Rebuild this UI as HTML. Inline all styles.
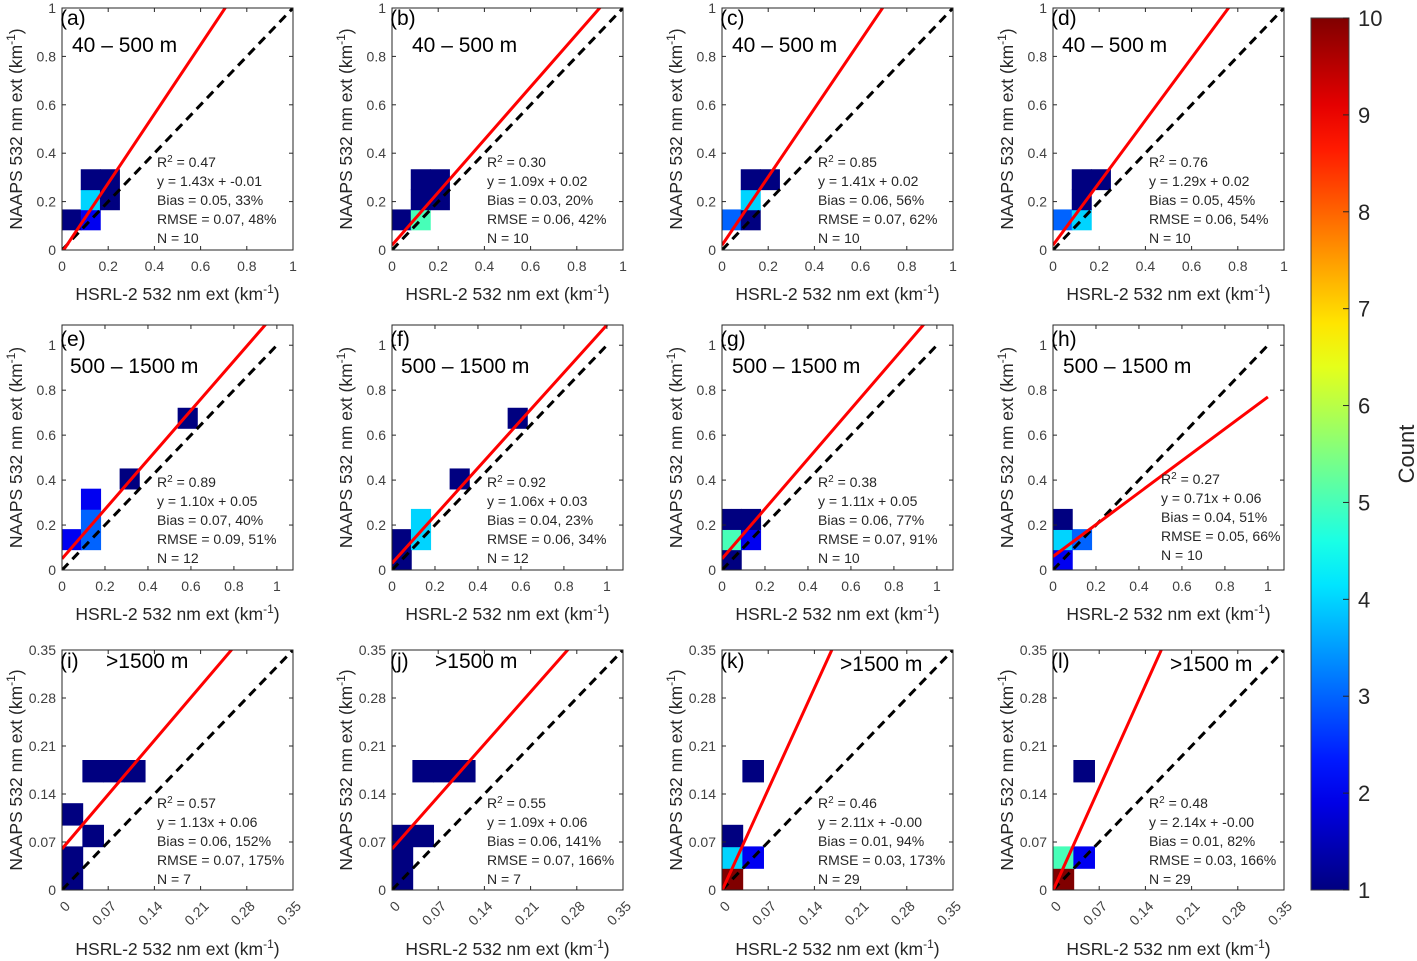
<!DOCTYPE html>
<html><head><meta charset="utf-8"><style>
body{margin:0;background:#fff}
svg{display:block;font-family:"Liberation Sans",Arial,sans-serif}
</style></head><body>
<svg id="fig" width="1417" height="961" viewBox="0 0 1417 961"></svg>
<script>
const panelLabels=['(a)','(b)','(c)','(d)','(e)','(f)','(g)','(h)','(i)','(j)','(k)','(l)'];
const rangeLabels=['40 – 500 m','500 – 1500 m','>1500 m'];
const slopes=[1.43,1.09,1.41,1.29,1.10,1.06,1.11,0.71,1.13,1.09,2.11,2.14];
const intercepts=[-0.01,0.02,0.02,0.02,0.05,0.03,0.05,0.06,0.06,0.06,-0.001,-0.001];
const r2Labels=['0.47','0.30','0.85','0.76','0.89','0.92','0.38','0.27','0.57','0.55','0.46','0.48'];
const fitLabels=['y = 1.43x + -0.01','y = 1.09x + 0.02','y = 1.41x + 0.02','y = 1.29x + 0.02','y = 1.10x + 0.05','y = 1.06x + 0.03','y = 1.11x + 0.05','y = 0.71x + 0.06','y = 1.13x + 0.06','y = 1.09x + 0.06','y = 2.11x + -0.00','y = 2.14x + -0.00'];
const biasLabels=['0.05, 33%','0.03, 20%','0.06, 56%','0.05, 45%','0.07, 40%','0.04, 23%','0.06, 77%','0.04, 51%','0.06, 152%','0.06, 141%','0.01, 94%','0.01, 82%'];
const rmseLabels=['0.07, 48%','0.06, 42%','0.07, 62%','0.06, 54%','0.09, 51%','0.06, 34%','0.07, 91%','0.05, 66%','0.07, 175%','0.07, 166%','0.03, 173%','0.03, 166%'];
const nValues=[10,10,10,10,12,12,10,10,7,7,29,29];
const binWidths=[0.083,0.09,0.0315];
// cells: [xbin, ybin, count]
const cellsA=[[0,1,1],[1,1,2],[1,2,4],[1,3,1],[2,3,1],[2,2,1]];
const cellsB=[[0,1,1],[1,1,5],[1,2,1],[2,2,1],[1,3,1],[2,3,1]];
const cellsC=[[0,1,3],[1,1,1],[1,2,4],[1,3,1],[2,3,1]];
const cellsD=[[0,1,3],[1,1,4],[1,2,1],[1,3,1],[2,3,1]];
const cellsE=[[0,1,2],[1,1,3],[1,2,3],[1,3,2],[3,4,1],[6,7,1]];
const cellsF=[[0,0,1],[0,1,1],[1,1,4],[1,2,4],[3,4,1],[6,7,1]];
const cellsG=[[0,0,1],[0,1,5],[1,1,2],[0,2,1],[1,2,1]];
const cellsH=[[0,0,2],[0,1,4],[1,1,3],[0,2,1]];
const cellsI=[[0,0,1],[0,1,1],[1,2,1],[0,3,1],[1,5,1],[2,5,1],[3,5,1]];
const cellsJ=[[0,0,1],[0,1,1],[0,2,1],[1,2,1],[1,5,1],[2,5,1],[3,5,1]];
const cellsK=[[0,0,10],[0,1,4],[1,1,2],[0,2,1],[1,5,1]];
const cellsL=[[0,0,10],[0,1,5],[1,1,2],[1,5,1]];
const allCells=[cellsA,cellsB,cellsC,cellsD,cellsE,cellsF,cellsG,cellsH,cellsI,cellsJ,cellsK,cellsL];
const ticks12=['0','0.2','0.4','0.6','0.8','1'];
const ticks3=['0','0.07','0.14','0.21','0.28','0.35'];
const cbTicks=[1,2,3,4,5,6,7,8,9,10];

const NS='http://www.w3.org/2000/svg';
const svg=document.getElementById('fig');
function mk(t,a,p){const e=document.createElementNS(NS,t);for(const k in a)e.setAttribute(k,a[k]);(p||svg).appendChild(e);return e;}
function jet(v){
  function c(x){return Math.max(0,Math.min(1,x));}
  const r=c(1.5-Math.abs(4*v-3)),g=c(1.5-Math.abs(4*v-2)),b=c(1.5-Math.abs(4*v-1));
  return 'rgb('+Math.round(r*255)+','+Math.round(g*255)+','+Math.round(b*255)+')';}
function countColor(n){return jet((n-1)/9);}

const colLeft=[62,392,722,1053];
const rowCfg=[{top:8,bot:250,xmax:1,ymax:1,tmax:1,ticks:ticks12,lineMax:1,stat:167,title:300,rot:false},
 {top:325,bot:570,xmax:1.075,ymax:1.09,tmax:1,ticks:ticks12,lineMax:1,stat:487,title:620,rot:false},
 {top:650,bot:890,xmax:0.35,ymax:0.35,tmax:0.35,ticks:ticks3,lineMax:0.35,stat:808,title:955,rot:true}];
const labelOff=[[[-2,25],[10,52]],[[-2,25],[20,52]],[[-2,25],[10,52]],[[-2,25],[9,52]],
 [[-2,346],[8,373]],[[-2,346],[9,373]],[[-2,346],[10,373]],[[-2,346],[10,373]],
 [[-2,668],[44,668]],[[-2,668],[43,668]],[[-2,668],[118,671]],[[-2,668],[117,671]]];
const statOff=[95,95,96,96,95,95,96,108,95,95,96,96];

for(let p=0;p<12;p++){
  const r=Math.floor(p/4),c=p%4,cfg=rowCfg[r];
  const L=colLeft[c],R=L+231,T=cfg.top,B=cfg.bot;
  const X=v=>L+v/cfg.xmax*(R-L), Y=v=>B-v/cfg.ymax*(B-T);
  const g=mk('g',{});
  
  
  const cid='clip'+p;
  const cp=mk('clipPath',{id:cid},g);mk('rect',{x:L,y:T,width:R-L,height:B-T},cp);
  const w=binWidths[r];
  allCells[p].forEach(cell=>{
    const x0=X(cell[0]*w),x1=X((cell[0]+1)*w),y0=Y(cell[1]*w),y1=Y((cell[1]+1)*w);
    const col=countColor(cell[2]);
    const e=mk('rect',{x:x0,y:y1,width:x1-x0,height:y0-y1,fill:col,stroke:col,'stroke-width':0.8},g);
    
    
  });
  const d=mk('line',{x1:X(0),y1:Y(0),x2:X(cfg.lineMax),y2:Y(cfg.lineMax),stroke:'#000','stroke-width':3,'stroke-dasharray':'9,6','clip-path':'url(#'+cid+')'},g);
  
  
  const fl=mk('line',{x1:X(0),y1:Y(intercepts[p]),x2:X(cfg.lineMax),y2:Y(slopes[p]*cfg.lineMax+intercepts[p]),stroke:'#ff0000','stroke-width':3,'clip-path':'url(#'+cid+')'},g);
  
  
  mk('rect',{x:L,y:T,width:R-L,height:B-T,fill:'none',stroke:'#262626','stroke-width':1},g);
  cfg.ticks.forEach((t,i)=>{
    const v=i*cfg.tmax/5, xx=X(v), yy=Y(v);
    mk('line',{x1:xx,y1:B,x2:xx,y2:B-4,stroke:'#262626'},g);
    mk('line',{x1:xx,y1:T,x2:xx,y2:T+4,stroke:'#262626'},g);
    mk('line',{x1:L,y1:yy,x2:L+4,y2:yy,stroke:'#262626'},g);
    mk('line',{x1:R,y1:yy,x2:R-4,y2:yy,stroke:'#262626'},g);
    const yl=mk('text',{x:L-6,y:yy+5,'text-anchor':'end','font-size':14,fill:'#404040'},g);yl.textContent=t;
    let xl;
    if(cfg.rot){xl=mk('text',{x:xx+9,y:B+17,'text-anchor':'end','font-size':14,fill:'#404040',transform:'rotate(-45 '+(xx+9)+' '+(B+17)+')'},g);}
    else{xl=mk('text',{x:xx,y:B+21,'text-anchor':'middle','font-size':14,fill:'#404040'},g);}
    xl.textContent=t;
  });
  const yt=mk('text',{x:0,y:0,'text-anchor':'middle','font-size':17.5,fill:'#262626',transform:'translate('+(L-40)+','+((T+B)/2)+') rotate(-90)'},g);
  
  yt.innerHTML='NAAPS 532 nm ext (km<tspan dy="-7" font-size="12">-1</tspan><tspan dy="7">)</tspan>';
  const xt=mk('text',{x:(L+R)/2,y:cfg.title,'text-anchor':'middle','font-size':17.5,fill:'#262626'},g);
  
  xt.innerHTML='HSRL-2 532 nm ext (km<tspan dy="-7" font-size="12">-1</tspan><tspan dy="7">)</tspan>';
  const pl=mk('text',{x:L+labelOff[p][0][0],y:labelOff[p][0][1],'font-size':21,fill:'#000'},g);pl.textContent=panelLabels[p];
  
  const rl=mk('text',{x:L+labelOff[p][1][0],y:labelOff[p][1][1],'font-size':21,fill:'#000'},g);rl.textContent=rangeLabels[r];
  
  const sx=L+statOff[p], sy=cfg.stat-(p===7?3:0);
  const st=mk('text',{x:sx,y:sy,'font-size':14,fill:'#262626'},g);
  
  st.innerHTML='R<tspan dy="-5" font-size="10">2</tspan><tspan dy="5"> = '+r2Labels[p]+'</tspan>';
  const lines=[fitLabels[p],'Bias = '+biasLabels[p],'RMSE = '+rmseLabels[p],'N = '+nValues[p]];
  lines.forEach((s,i)=>{const t=mk('text',{x:sx,y:sy+19*(i+1),'font-size':14,fill:'#262626'},g);t.textContent=s;});
}
const cb=mk('g',{});


const grad=mk('linearGradient',{id:'jetg',x1:0,y1:1,x2:0,y2:0},cb);
for(let i=0;i<=20;i++){mk('stop',{offset:i/20,'stop-color':jet(i/20)},grad);}
const cbT=18,cbB=890,cbL=1311,cbR=1349;
mk('rect',{x:cbL,y:cbT,width:cbR-cbL,height:cbB-cbT,fill:'url(#jetg)',stroke:'#404040'},cb);
const cbY=v=>cbB-(v-1)/9*(cbB-cbT);
cbTicks.forEach(v=>{
  mk('line',{x1:cbR-6,y1:cbY(v),x2:cbR,y2:cbY(v),stroke:'#262626'},cb);
  const t=mk('text',{x:cbR+9,y:cbY(v)+8,'font-size':22,fill:'#262626'},cb);t.textContent=v;
});
const ct=mk('text',{x:0,y:0,'text-anchor':'middle','font-size':22,fill:'#262626',transform:'translate(1414,454) rotate(-90)'},cb);


ct.textContent='Count';
</script>
</body></html>
